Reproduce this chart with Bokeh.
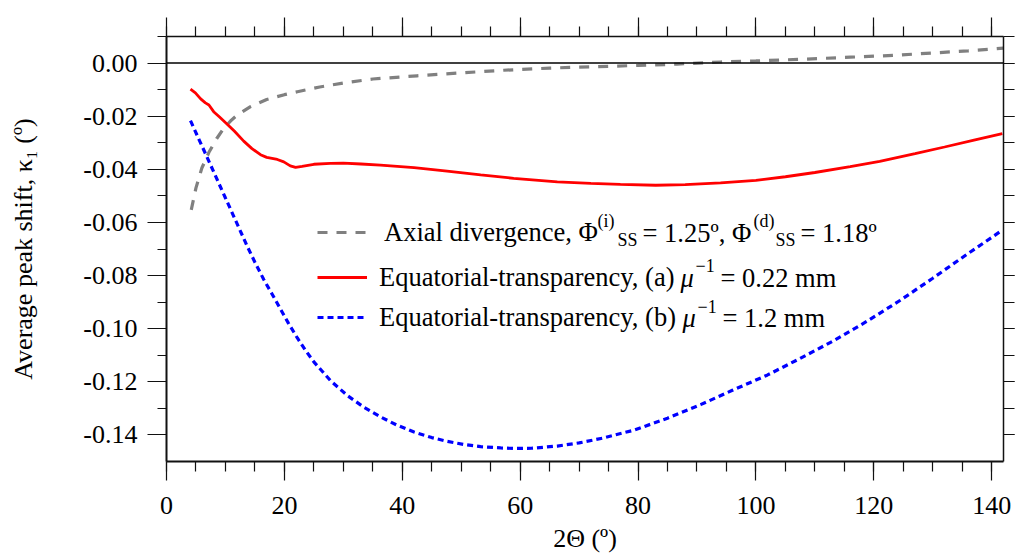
from bokeh.plotting import figure
from bokeh.models import (Range1d, LinearAxis, SingleIntervalTicker, NumeralTickFormatter,
                          CustomJSTickFormatter, Span, Label, Legend, LegendItem)
from bokeh.core.properties import value
from bokeh.embed import file_html
from bokeh.resources import INLINE

FONT = "Liberation Serif"

# ---------------- data ----------------
axial_x = [4.2, 5.0, 6.0, 7.2, 8.5, 9.5, 11.0, 12.0, 14.25, 17.0, 20.0, 22.2, 26.0, 30.0, 35.0,
           42.5, 50.0, 57.2, 65.0, 72.0, 80.0, 86.6, 94.0, 100.0, 108.6, 116.0, 123.3, 130.0,
           136.0, 142.0]
axial_y = [-0.0553, -0.0470, -0.0395, -0.0336, -0.0285, -0.0252, -0.0215, -0.0196, -0.0164,
           -0.0137, -0.0119, -0.0108, -0.0090, -0.0075, -0.0060, -0.0048, -0.0037, -0.0027,
           -0.0019, -0.0014, -0.0009, -0.0004, 0.0004, 0.0008, 0.0015, 0.0022, 0.0029, 0.0038,
           0.0046, 0.0056]

eqa_x = [4.07, 4.9, 5.8, 6.6, 7.2, 8.0, 9.0, 10.3, 11.5, 13.1, 14.5, 15.95, 17.0, 18.8, 19.9,
         21.0, 21.9, 23.0, 25.0, 27.8, 30.0, 33.0, 36.3, 42.0, 47.6, 53.3, 58.9, 66.3, 72.0,
         77.0, 83.0, 88.0, 94.0, 100.0, 105.0, 110.0, 116.0, 121.0, 127.0, 132.0, 137.0, 141.8]
eqa_y = [-0.0098, -0.0112, -0.0135, -0.0150, -0.0158, -0.0183, -0.0203, -0.0230, -0.0256,
         -0.0294, -0.0322, -0.0345, -0.0355, -0.0363, -0.0372, -0.0387, -0.0393, -0.0389,
         -0.0381, -0.0378, -0.0377, -0.0380, -0.0384, -0.0394, -0.0407, -0.0421, -0.0434,
         -0.0447, -0.0453, -0.0457, -0.0460, -0.0458, -0.0451, -0.0442, -0.0428, -0.0412,
         -0.0390, -0.0370, -0.0341, -0.0316, -0.0290, -0.0266]

eqb_x = [4.07, 5.5, 7.2, 8.6, 10.0, 10.86, 12.3, 13.7, 15.0, 16.5, 18.0, 19.3, 20.7, 22.2,
         23.6, 25.0, 27.8, 30.7, 33.5, 36.3, 39.0, 42.0, 45.0, 47.6, 50.5, 53.3, 56.7, 58.9,
         62.0, 66.3, 70.0, 74.0, 79.3, 85.0, 90.6, 96.0, 101.9, 107.5, 113.2, 119.0, 124.5,
         130.0, 135.8, 141.8]
eqb_y = [-0.0217, -0.0287, -0.0370, -0.0439, -0.0508, -0.0550, -0.0621, -0.0690, -0.0750,
         -0.0815, -0.0873, -0.0925, -0.0980, -0.1035, -0.1082, -0.1125, -0.1195, -0.1252,
         -0.1296, -0.1332, -0.1362, -0.1389, -0.1410, -0.1424, -0.1436, -0.1444, -0.1449,
         -0.1451, -0.1450, -0.1442, -0.1430, -0.1412, -0.1382, -0.1337, -0.1286, -0.1232,
         -0.1175, -0.1112, -0.1045, -0.0970, -0.0893, -0.0810, -0.0720, -0.0629]

x_title = "2Θ (º)"
y_title = "Average peak shift, κ₁ (º)"

# ---------------- figure ----------------
p = figure(width=1015, height=556, output_backend="svg", toolbar_location=None,
           x_range=Range1d(0, 142), y_range=Range1d(-0.15, 0.01),
           x_axis_location=None, y_axis_location=None,
           min_border_left=166, min_border_right=12, min_border_top=36, min_border_bottom=95)
p.grid.visible = False
p.outline_line_color = None
p.background_fill_color = "white"
p.border_fill_color = "white"

blank = CustomJSTickFormatter(code="return ''")


def style_axis(ax, major_out, minor_out, standoff=8, labels=True, lw=1.5):
    ax.axis_line_color = "#111111"
    ax.axis_line_width = lw
    ax.major_tick_in = 0
    ax.minor_tick_in = 0
    ax.major_tick_out = major_out
    ax.minor_tick_out = minor_out
    ax.major_tick_line_color = "#111111"
    ax.minor_tick_line_color = "#111111"
    ax.major_tick_line_width = 1.2
    ax.minor_tick_line_width = 1.2
    ax.major_label_text_font = FONT
    ax.major_label_text_font_size = "26px"
    ax.major_label_text_color = "black"
    ax.major_label_standoff = standoff if labels else 0


xt = lambda: SingleIntervalTicker(interval=20, num_minor_ticks=4)
yt = lambda: SingleIntervalTicker(interval=0.02, num_minor_ticks=2)

xb = LinearAxis(ticker=xt(), formatter=NumeralTickFormatter(format="0"))
style_axis(xb, 19, 10, standoff=16, lw=1.8)
xb.axis_label = x_title
xb.axis_label_text_font = FONT
xb.axis_label_text_font_size = "26px"
xb.axis_label_text_font_style = "normal"
xb.axis_label_text_color = "black"
xb.axis_label_standoff = 7
p.add_layout(xb, "below")

xa = LinearAxis(ticker=xt(), formatter=blank)
style_axis(xa, 19, 10, labels=False)
p.add_layout(xa, "above")

yl = LinearAxis(ticker=yt(), formatter=NumeralTickFormatter(format="0.00"))
style_axis(yl, 19, 9, standoff=10, lw=2)
yl.axis_label = y_title
yl.axis_label_text_font = FONT
yl.axis_label_text_font_size = "26px"
yl.axis_label_text_font_style = "normal"
yl.axis_label_text_color = "black"
yl.axis_label_standoff = 42
p.add_layout(yl, "left")

yr = LinearAxis(ticker=yt(), formatter=blank)
style_axis(yr, 11, 11, labels=False)
p.add_layout(yr, "right")

p.add_layout(Span(location=0, dimension="width", line_color="black", line_width=1.5))

# ---------------- curves ----------------
r_ax = p.line(axial_x, axial_y, line_color="#808080", line_width=3.2, line_dash="10 9")
r_a = p.line(eqa_x, eqa_y, line_color="#ff0000", line_width=2.8)
r_b = p.line(eqb_x, eqb_y, line_color="#0000ff", line_width=3.2, line_dash="6 4")

# ---------------- legend: one row per legend, first part of each text ----------------
legend_rows = [
    (r_ax, "Axial divergence, Φ", 213, 17),
    (r_a, "Equatorial-transparency, (a)", 168, 12),
    (r_b, "Equatorial-transparency, (b)", 128, 12),
]
for r, lab, vy, stand in legend_rows:
    leg = Legend(items=[LegendItem(label=value(lab), renderers=[r])],
                 location=(151, vy), glyph_width=50, glyph_height=32, label_height=32,
                 label_standoff=stand, label_text_font=FONT, label_text_font_size="26.5px",
                 label_text_color="black",
                 padding=0, margin=0, spacing=0,
                 border_line_color=None, background_fill_alpha=0)
    p.add_layout(leg)


def txt(t, x, y, size="26.5px", style="normal"):
    p.add_layout(Label(x=x, y=y, x_units="screen", y_units="screen", text=t,
                       text_font=FONT, text_font_size=size, text_font_style=style,
                       text_color="black", text_baseline="middle", text_align="left"))


# row 1: axial divergence (rest of the text)
txt("(i)", 431, 241, "18px")
txt("SS", 451, 222, "18px")
txt("= 1.25º, Φ", 476, 229)
txt("(d)", 587, 241, "18px")
txt("SS", 609, 222, "18px")
txt("= 1.18º", 634, 229)
# row 2
txt("μ", 514, 184, style="italic")
txt("−1", 529, 196, "18px")
txt("= 0.22 mm", 554, 184)
# row 3
txt("μ", 516, 144, style="italic")
txt("−1", 531, 155, "18px")
txt("= 1.2 mm", 556, 144)

open("out.html", "w").write(file_html(p, INLINE))
